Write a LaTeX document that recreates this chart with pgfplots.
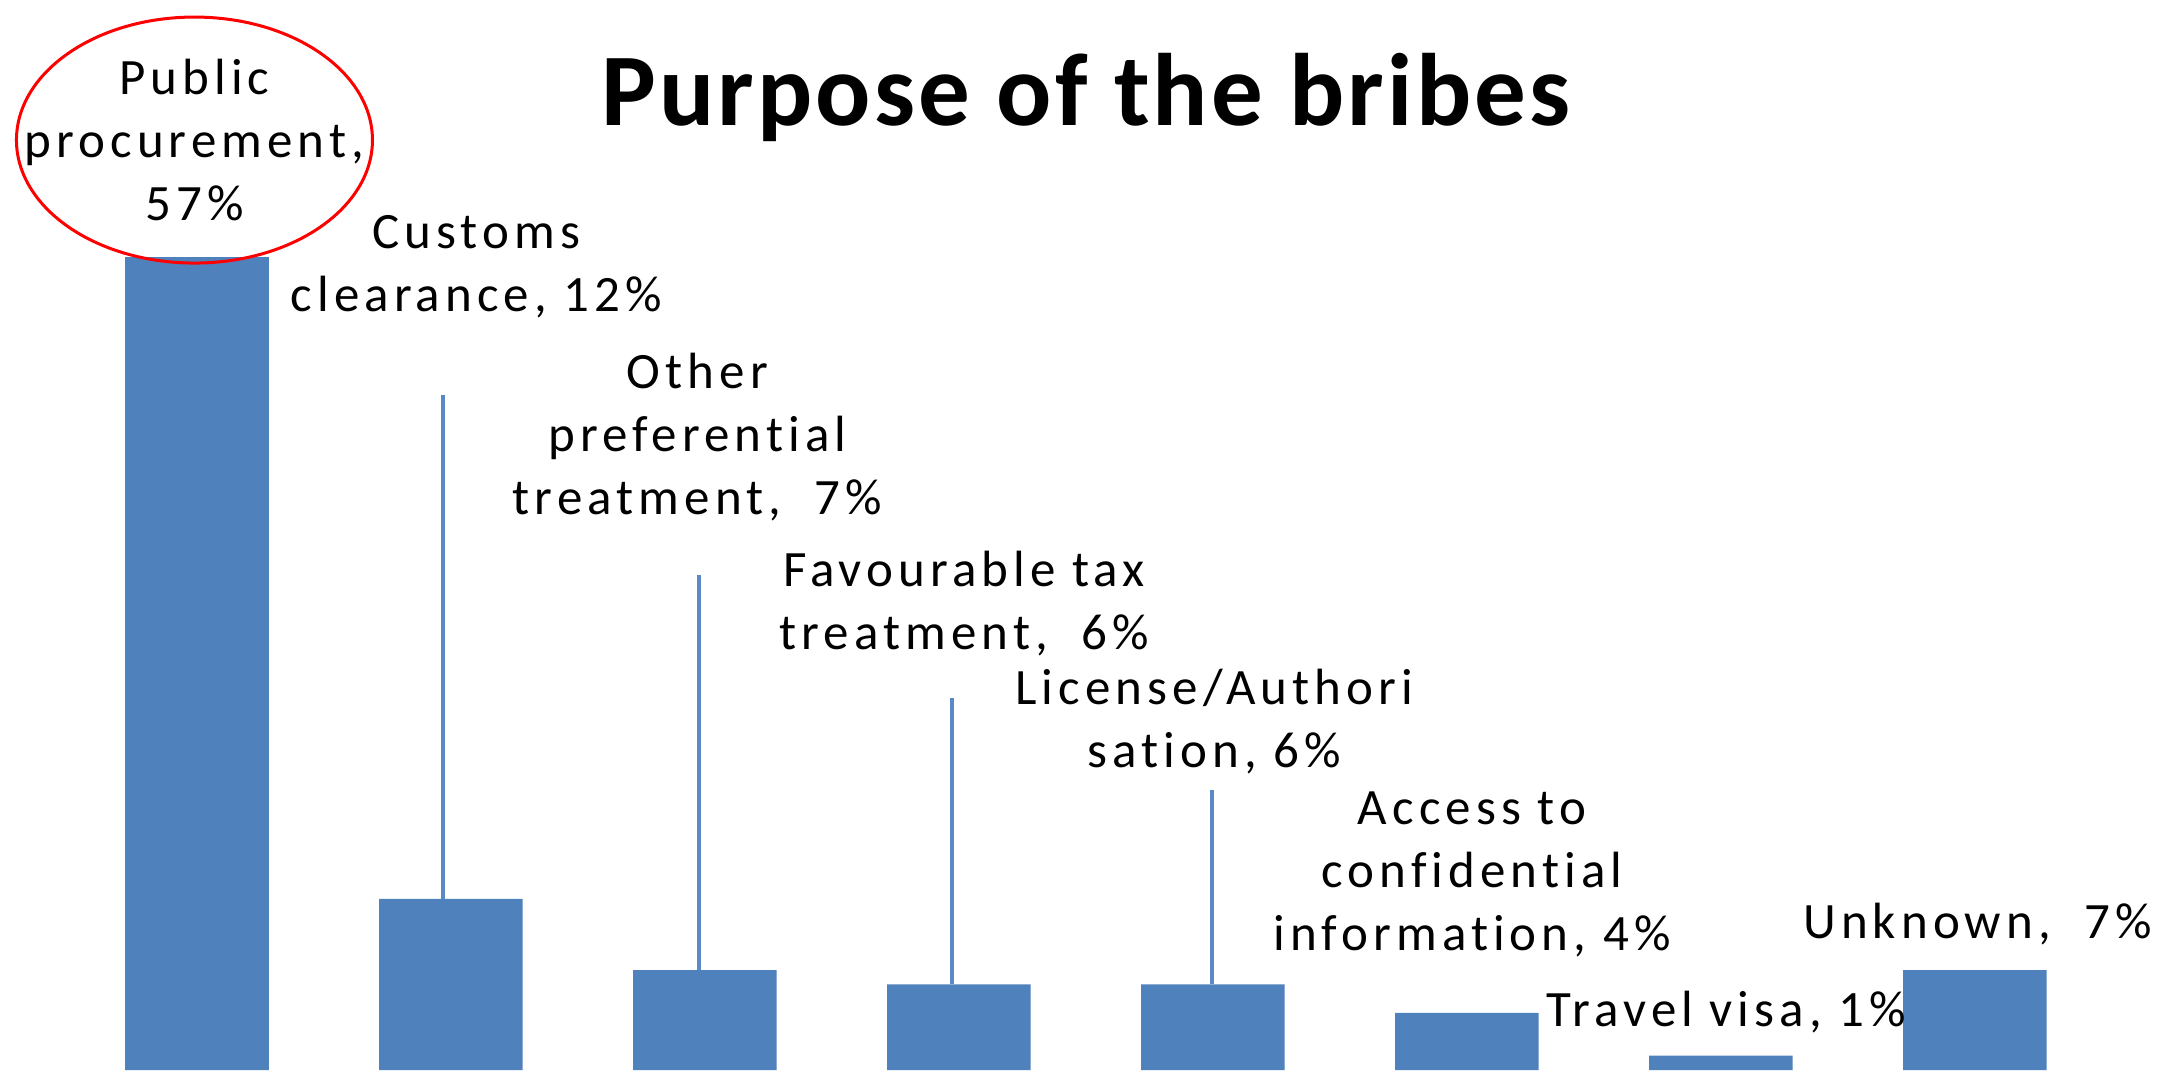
\documentclass[border=0pt]{standalone}
\usepackage{pgfplots}
\pgfplotsset{compat=1.18}
\usepackage{fontspec}
\setmainfont{Carlito}
\newfontfamily\lbl[LetterSpace=10, Ligatures=NoCommon]{Carlito}
\newfontfamily\ttl[LetterSpace=3]{Carlito}
\definecolor{barblue}{HTML}{4F81BD}
\definecolor{lineblue}{HTML}{5A8AC6}
\begin{document}
\begin{tikzpicture}
\path[use as bounding box, fill=white] (0,0) rectangle (216.4mm,108.1mm);
\begin{axis}[
  at={(7mm,1.1mm)}, anchor=south west,
  width=203.2mm, height=81.3mm, scale only axis,
  xmin=-0.5, xmax=7.5, ymin=0, ymax=57,
  hide axis, clip=false,
  ybar, bar width=14.35mm,
]
\addplot[fill=barblue, draw=none] coordinates {(0,57) (1,12) (2,7) (3,6) (4,6) (5,4) (6,1) (7,7)};
% leader lines
\draw[lineblue, line width=0.4mm] (axis cs:0.967,47.3) -- (axis cs:0.967,12);
\draw[lineblue, line width=0.4mm] (axis cs:1.978,34.7) -- (axis cs:1.978,7);
\draw[lineblue, line width=0.4mm] (axis cs:2.973,26.1) -- (axis cs:2.973,6);
\draw[lineblue, line width=0.4mm] (axis cs:3.995,19.6) -- (axis cs:3.995,6);
% title
\node[anchor=base, font={\ttl\bfseries\fontsize{29.3}{35}\selectfont}] at (axis cs:3.5,66.2) {Purpose of the bribes};
% ellipse
\draw[red, line width=0.3mm] (axis cs:-0.01,65.2) ellipse [x radius=17.8mm, y radius=12.3mm];
\tikzset{lab/.style={align=center, font={\lbl\fontsize{14.5}{17.9}\selectfont}, inner sep=0pt}}
\node[lab] at (axis cs:-0.01,65.2) {Public\\procurement,\\57\%};
\node[lab] at (axis cs:1.10,56.3) {Customs\\clearance, 12\%};
\node[lab] at (axis cs:1.97,44.4) {Other\\preferential\\treatment,\ \ 7\%};
\node[lab] at (axis cs:3.02,32.7) {Favourable tax\\treatment,\ \ 6\%};
\node[lab] at (axis cs:4.005,24.4) {License/Authori\\sation, 6\%};
\node[lab] at (axis cs:5.02,13.7) {Access to\\confidential\\information, 4\%};
\node[lab] at (axis cs:6.02,4.07) {Travel visa, 1\%};
\node[lab] at (axis cs:7.01,10.26) {Unknown,\ \ 7\%};
\end{axis}
\end{tikzpicture}
\end{document}
